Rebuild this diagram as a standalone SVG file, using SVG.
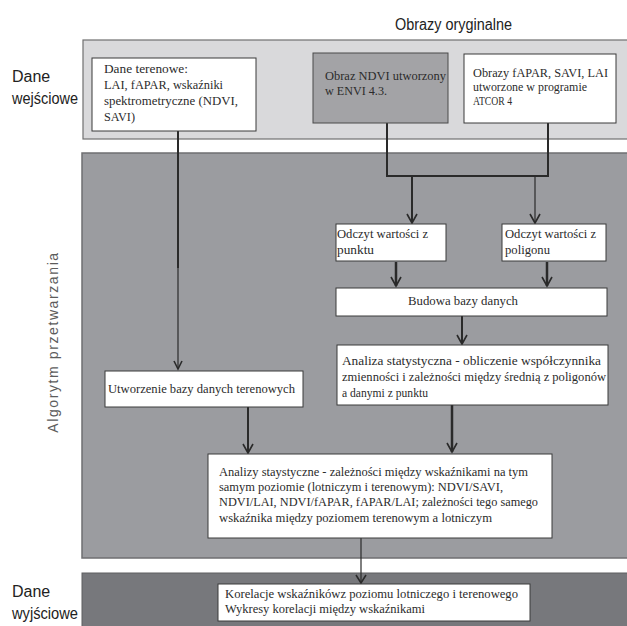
<svg xmlns="http://www.w3.org/2000/svg" width="627" height="626" viewBox="0 0 627 626">
<defs>
<style>
.t{font-family:"Liberation Serif","Times New Roman",serif;font-size:13px;fill:#2b2b2b}
.h{font-family:"Liberation Sans",Arial,sans-serif;font-size:16px;fill:#222}
.box{fill:#fff;stroke:#3a3a3a;stroke-width:1}
.ln{fill:none;stroke:#2a2a2a}
.ah{fill:none;stroke:#2a2a2a;stroke-width:1.6}
</style>
</defs>
<rect width="627" height="626" fill="#fff"/>
<!-- panels -->
<rect x="83" y="40" width="550" height="99" fill="#d9d9db" stroke="#707070" stroke-width="1.2"/>
<rect x="82" y="153" width="550" height="405" fill="#9b9ca0" stroke="#6f6f72" stroke-width="1.5"/>
<rect x="82" y="573" width="550" height="60" fill="#77787c" stroke="#5e5e60" stroke-width="1"/>
<!-- side labels -->
<text class="h" x="12" y="82">Dane</text>
<text class="h" x="12" y="104" textLength="66" lengthAdjust="spacingAndGlyphs">wejściowe</text>
<text class="h" x="12" y="597">Dane</text>
<text class="h" x="12" y="619" textLength="66" lengthAdjust="spacingAndGlyphs">wyjściowe</text>
<text class="h" x="395" y="30" font-size="15" textLength="117" lengthAdjust="spacingAndGlyphs">Obrazy oryginalne</text>
<text x="0" y="0" transform="translate(58,342) rotate(-90)" text-anchor="middle" font-family="'Liberation Sans',Arial,sans-serif" font-size="14" fill="#5c5c5c" letter-spacing="1.6">Algorytm  przetwarzania</text>
<!-- connectors -->
<g id="connectors">
<path class="ln" stroke-width="2" d="M178 131V268"/>
<path class="ln" stroke-width="1.2" d="M178 268V369"/>
<path class="ah" d="M174 361L178 369L182 361"/>
<path class="ln" stroke-width="2" d="M387 123V176H548V123"/>
<path class="ln" stroke-width="2" d="M412 176V223"/>
<path class="ah" d="M407 214L412 223L417 214"/>
<path class="ln" stroke-width="1.2" d="M535 176V223"/>
<path class="ah" d="M530 214L535 223L540 214"/>
<path class="ln" stroke-width="2.5" d="M396 262V286"/>
<path class="ah" d="M391 277L396 286L401 277" stroke-width="2"/>
<path class="ln" stroke-width="2.5" d="M547 262V286"/>
<path class="ah" d="M542 277L547 286L552 277" stroke-width="2"/>
<path class="ln" stroke-width="2" d="M462 316V344"/>
<path class="ah" d="M457 335L462 344L467 335"/>
<path class="ln" stroke-width="2.5" d="M452 405V452"/>
<path class="ah" d="M447 443L452 452L457 443" stroke-width="2"/>
<path class="ln" stroke-width="2" d="M248 407V453"/>
<path class="ah" d="M243 444L248 453L253 444"/>
<path class="ln" stroke-width="1.2" d="M361 538V583"/>
<path class="ah" d="M356 575L361 583L366 575" stroke-width="1.3"/>
</g>
<!-- nodes -->
<g id="dane-terenowe">
<rect class="box" x="92" y="58" width="164" height="73"/>
<text class="t" x="104" y="73" textLength="84" lengthAdjust="spacingAndGlyphs">Dane terenowe:</text>
<text class="t" x="104" y="89" textLength="119" lengthAdjust="spacingAndGlyphs">LAI, fAPAR, wskaźniki</text>
<text class="t" x="104" y="105" textLength="134" lengthAdjust="spacingAndGlyphs">spektrometryczne  (NDVI,</text>
<text class="t" x="104" y="121" textLength="31" lengthAdjust="spacingAndGlyphs">SAVI)</text>
</g>
<g id="obraz-ndvi">
<rect x="313" y="53" width="135" height="70" fill="#a3a3a6" stroke="#4a4a4a" stroke-width="1"/>
<text class="t" x="325" y="80" textLength="121" lengthAdjust="spacingAndGlyphs">Obraz NDVI utworzony</text>
<text class="t" x="325" y="95" textLength="62" lengthAdjust="spacingAndGlyphs">w ENVI 4.3.</text>
</g>
<g id="obrazy-fapar">
<rect class="box" x="464" y="54" width="152" height="69"/>
<text class="t" x="473" y="77" textLength="135" lengthAdjust="spacingAndGlyphs">Obrazy fAPAR, SAVI, LAI</text>
<text class="t" x="473" y="91" textLength="114" lengthAdjust="spacingAndGlyphs">utworzone w programie</text>
<text class="t" x="473" y="105" textLength="39" lengthAdjust="spacingAndGlyphs">ATCOR 4</text>
</g>
<g id="odczyt-punktu">
<rect class="box" x="336" y="224" width="110" height="37"/>
<text class="t" x="337" y="238" textLength="91" lengthAdjust="spacingAndGlyphs">Odczyt wartości z</text>
<text class="t" x="337" y="254" textLength="37" lengthAdjust="spacingAndGlyphs">punktu</text>
</g>
<g id="odczyt-poligonu">
<rect class="box" x="502" y="224" width="104" height="37"/>
<text class="t" x="505" y="238" textLength="91" lengthAdjust="spacingAndGlyphs">Odczyt wartości z</text>
<text class="t" x="505" y="254" textLength="45" lengthAdjust="spacingAndGlyphs">poligonu</text>
</g>
<g id="budowa">
<rect class="box" x="336" y="288" width="271" height="28"/>
<text class="t" x="408" y="305" textLength="110" lengthAdjust="spacingAndGlyphs">Budowa bazy danych</text>
</g>
<g id="analiza-statystyczna">
<rect class="box" x="337" y="345" width="271" height="60"/>
<text class="t" x="342" y="365" textLength="259" lengthAdjust="spacingAndGlyphs">Analiza statystyczna - obliczenie współczynnika</text>
<text class="t" x="342" y="381" textLength="264" lengthAdjust="spacingAndGlyphs">zmienności i zależności między średnią z poligonów</text>
<text class="t" x="342" y="397" textLength="86" lengthAdjust="spacingAndGlyphs">a  danymi z punktu</text>
</g>
<g id="utworzenie">
<rect class="box" x="105" y="371" width="198" height="36"/>
<text class="t" x="108" y="393" textLength="187" lengthAdjust="spacingAndGlyphs">Utworzenie bazy danych terenowych</text>
</g>
<g id="analizy-statystyczne">
<rect class="box" x="208" y="454" width="344" height="84"/>
<text class="t" x="219" y="476" textLength="309" lengthAdjust="spacingAndGlyphs">Analizy staystyczne - zależności między wskaźnikami na tym</text>
<text class="t" x="219" y="491" textLength="284" lengthAdjust="spacingAndGlyphs">samym poziomie (lotniczym i terenowym): NDVI/SAVI,</text>
<text class="t" x="219" y="506" textLength="319" lengthAdjust="spacingAndGlyphs">NDVI/LAI, NDVI/fAPAR,  fAPAR/LAI; zależności tego samego</text>
<text class="t" x="219" y="522" textLength="273" lengthAdjust="spacingAndGlyphs">wskaźnika między poziomem terenowym a lotniczym</text>
</g>
<g id="korelacje">
<rect class="box" x="218" y="584" width="312" height="37"/>
<text class="t" x="225" y="598" textLength="293" lengthAdjust="spacingAndGlyphs">Korelacje wskaźnikówz poziomu lotniczego i terenowego</text>
<text class="t" x="225" y="613" textLength="200" lengthAdjust="spacingAndGlyphs">Wykresy korelacji między wskaźnikami</text>
</g>
</svg>
